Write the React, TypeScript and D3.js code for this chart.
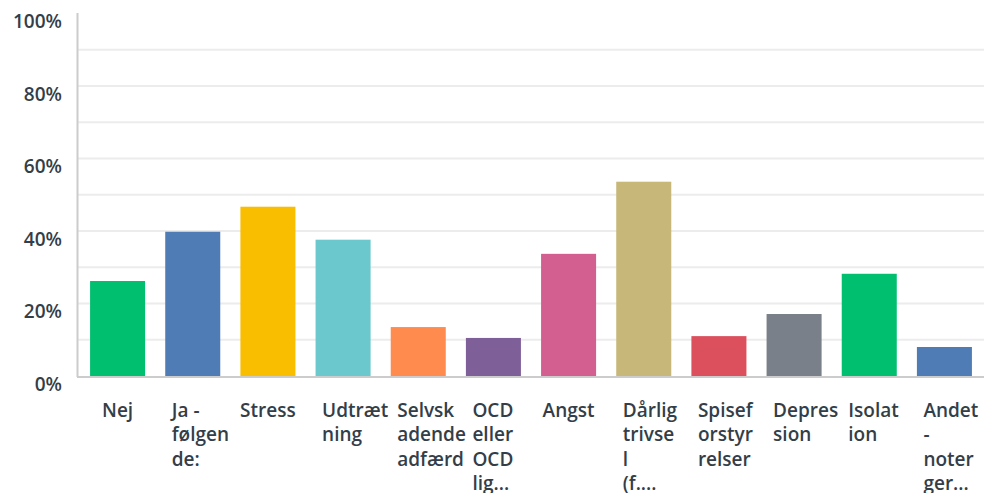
import React from "react";
import * as d3 from "d3";

const categories: string[][] = [
  ["Nej"],
  ["Ja -", "følgen", "de:"],
  ["Stress"],
  ["Udtræt", "ning"],
  ["Selvsk", "adende", "adfærd"],
  ["OCD", "eller", "OCD", "lig..."],
  ["Angst"],
  ["Dårlig", "trivse", "l", "(f...."],
  ["Spisef", "orstyr", "relser"],
  ["Depres", "sion"],
  ["Isolat", "ion"],
  ["Andet", "-", "noter", "ger..."],
];
const values: number[] = [0.262, 0.398, 0.467, 0.376, 0.135, 0.105, 0.337, 0.536, 0.11, 0.171, 0.282, 0.08];
const colors: string[] = [
  "#00bf6f", "#507cb6", "#f9be00", "#6bc8cd", "#ff8b4f", "#7f5f98",
  "#d25f90", "#c7b879", "#dc4f5c", "#7a8089", "#00bf6f", "#507cb6",
];
const yTicks: number[] = [0, 0.2, 0.4, 0.6, 0.8, 1.0];
const gridTicks: number[] = [0.1, 0.2, 0.3, 0.4, 0.5, 0.6, 0.7, 0.8, 0.9];

const W = 984;
const H = 493;
const FONT = "'Open Sans', sans-serif";
const TEXT = "#333e48";

export default function App() {
  const x = d3.scaleBand<number>().domain(d3.range(values.length)).range([80, 982]).paddingInner(0.268).paddingOuter(0.134);
  const y = d3.scaleLinear().domain([0, 1]).range([376, 13.5]);
  const fmt = d3.format(".0%");
  return (
    <svg width={W} height={H} style={{ position: "absolute", left: 0, top: 0 }}>
      <rect width={W} height={H} fill="#fff" />
      {gridTicks.map((t) => (
        <line key={t} x1={78} x2={984} y1={y(t)} y2={y(t)} stroke="#ececec" strokeWidth={2} />
      ))}
      {values.map((v, i) => (
        <rect key={i} x={x(i)} width={x.bandwidth()} y={y(v)} height={y(0) - y(v)} fill={colors[i]} />
      ))}
      <line x1={77.5} x2={77.5} y1={13} y2={377} stroke="#cccccc" strokeWidth={2} />
      <line x1={77} x2={984} y1={377} y2={377} stroke="#cccccc" strokeWidth={2} />
      {yTicks.map((t) => (
        <text key={t} x={62} y={y(t) + 8} dy="0.35em" textAnchor="end" fontFamily={FONT} fontWeight={600} fontSize={19} fill={TEXT}>
          {fmt(t)}
        </text>
      ))}
      {categories.map((lines, i) => {
        const c = (x(i) as number) + x.bandwidth() / 2;
        const single = lines.length === 1;
        return (
          <text key={i} x={single ? c : c - 21} y={416.5} textAnchor={single ? "middle" : "start"} fontFamily={FONT} fontWeight={600} fontSize={19} fill={TEXT}>
            {lines.map((l, j) => (
              <tspan key={j} x={single ? c : c - 21} dy={j === 0 ? 0 : 24.5}>{l}</tspan>
            ))}
          </text>
        );
      })}
    </svg>
  );
}
